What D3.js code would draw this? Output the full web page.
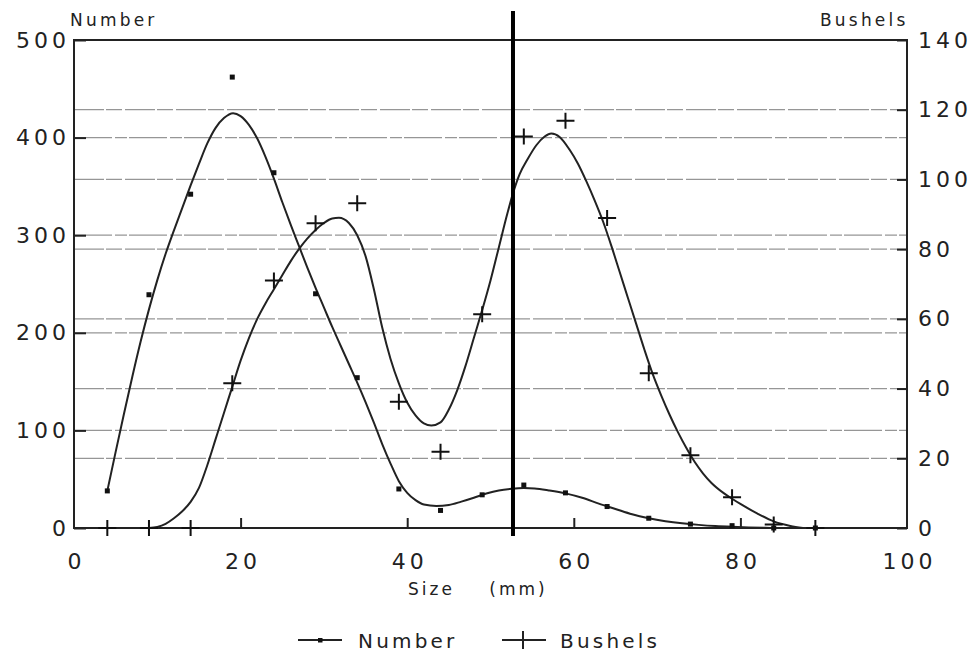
<!DOCTYPE html>
<html>
<head>
<meta charset="utf-8">
<script src="https://cdn.jsdelivr.net/npm/d3@7"></script>
<style>
  html, body { margin: 0; padding: 0; background: #fff; }
  text { font-family: "DejaVu Sans", sans-serif; fill: #222; }
</style>
</head>
<body>
<svg id="chart" width="974" height="662"></svg>
<script>
// ---- data ----
const sizes = [4, 9, 14, 19, 24, 29, 34, 39, 44, 49, 54, 59, 64, 69, 74, 79, 84, 89];
const numberValues = [38, 239, 342, 462, 364, 240, 154, 40, 18, 34, 44, 36, 22, 10, 4, 2.4, 0, 0];
const bushelValues = [0, 0, 0, 41.5, 71, 87.4, 93.2, 36.2, 21.9, 61.3, 112.3, 116.8, 88.9, 44.4, 20.9, 8.8, 1, 0];

// fitted smooth curves
const numberCurveX = [4, 5, 6, 7, 8, 9, 10, 11, 12, 13, 14, 15, 16, 17, 18, 19.1, 20, 21, 22, 23, 24, 25, 26, 27, 28, 29, 30, 31, 32, 33, 34, 35, 36, 37, 38, 39, 40, 41, 42, 43.5, 45, 46.5, 48, 49.5, 51, 52.5, 54, 55.3, 57, 59, 61, 63, 65, 67, 69, 71, 73, 75, 77, 79, 81, 83, 85];
const numberCurveY = [38, 78, 117, 155, 191, 224, 254, 281, 305, 328, 351, 373, 394, 410, 420, 425, 422, 413, 399, 380, 358, 334, 311, 289, 267, 246, 226, 206, 187, 168, 149, 129, 108, 86, 66, 48, 36, 28.5, 24, 22.5, 23.5, 27, 31, 35.3, 38.5, 40.2, 41, 40.5, 38.5, 35.5, 31, 25, 19.5, 14, 10, 7, 4.8, 3.2, 2, 1.2, 0.6, 0.2, 0];
const bushelCurveX = [9, 10, 11, 12, 13, 14, 15, 16, 17, 18, 19, 20, 21, 22, 23, 24, 25, 26, 27, 28, 29, 30, 31, 31.8, 33, 34, 35, 36, 37, 38, 39, 40, 41, 42, 42.9, 44, 45, 46, 47, 48, 49, 50, 51, 52, 52.7, 53.5, 54.5, 55.5, 56.5, 57.3, 58.3, 59.5, 60.5, 61.5, 62.5, 63.5, 64.5, 65.5, 66.5, 67.5, 68.5, 69.5, 70.5, 71.5, 72.5, 73.5, 74.5, 75.5, 76.5, 78, 79, 80, 82, 84, 86, 87.5];
const bushelCurveY = [0, 0.3, 1.2, 2.8, 4.8, 7.5, 11.5, 18, 25.5, 33, 40.5, 48, 54.5, 60, 64.5, 68.5, 72.5, 76.5, 80, 83, 85.5, 87.5, 88.8, 89, 87.5, 84, 78, 68.5, 57.5, 48.5, 41.5, 36, 32.3, 30, 29.4, 30.3, 34, 39.5, 46.5, 54.5, 62.5, 71, 80.5, 90, 96, 101.5, 106, 109.8, 112.3, 113.2, 112.2, 108.5, 104.5, 99.5, 94, 88, 81, 73.5, 66, 58.5, 51, 44, 38, 32.5, 27.5, 23, 19, 15.7, 13, 10, 8.4, 6.9, 4.2, 1.9, 0.6, 0];

const xTicks = [0, 20, 40, 60, 80, 100];
const leftTicks = [0, 100, 200, 300, 400, 500];
const rightTicks = [0, 20, 40, 60, 80, 100, 120, 140];
const markerSize = 52.7;
const labels = { left: "Number", right: "Bushels", x: "Size (mm)" };

// ---- layout ----
const svg = d3.select("#chart");
const x = d3.scaleLinear().domain([0, 100]).range([74, 907]);
const yL = d3.scaleLinear().domain([0, 500]).range([528, 40]);
const yR = d3.scaleLinear().domain([0, 140]).range([528, 40]);

const tickFont = { size: 22, spacing: 4 };

// gridlines
const grid = svg.append("g");
grid.selectAll("line.gl").data(leftTicks.filter(d => d > 0 && d < 500)).join("line")
  .attr("x1", x(0)).attr("x2", x(100)).attr("y1", d => yL(d)).attr("y2", d => yL(d))
  .attr("stroke", "#969696").attr("stroke-width", 1.3).attr("stroke-dasharray", "38,3,12,2");
grid.selectAll("line.gr").data(rightTicks.filter(d => d > 0 && d < 140)).join("line")
  .attr("x1", x(0)).attr("x2", x(100)).attr("y1", d => yR(d)).attr("y2", d => yR(d))
  .attr("stroke", "#969696").attr("stroke-width", 1.3).attr("stroke-dasharray", "30,2,16,3");

// frame
svg.append("rect").attr("x", x(0)).attr("y", yL(500))
  .attr("width", x(100) - x(0)).attr("height", yL(0) - yL(500))
  .attr("fill", "none").attr("stroke", "#222").attr("stroke-width", 2);

// axes
function styleAxis(g) {
  g.select(".domain").remove();
  g.selectAll(".tick line").attr("stroke", "#222").attr("stroke-width", 2);
  g.selectAll(".tick text").attr("font-size", tickFont.size).attr("letter-spacing", tickFont.spacing + "px")
    .attr("fill", "#222").attr("font-family", "DejaVu Sans, sans-serif");
}
const gx = svg.append("g").attr("transform", `translate(0,${yL(0)})`)
  .call(d3.axisBottom(x).tickValues(xTicks).tickSize(-10).tickPadding(25).tickFormat(d3.format("d")));
styleAxis(gx);
gx.selectAll(".tick line").filter(d => d === 0 || d === 100).remove();
gx.selectAll(".tick text").attr("dx", tickFont.spacing / 2);

const gl = svg.append("g").attr("transform", `translate(${x(0)},0)`)
  .call(d3.axisLeft(yL).tickValues(leftTicks).tickSize(-12).tickPadding(8).tickFormat(d3.format("d")));
styleAxis(gl);
gl.selectAll(".tick text").attr("dx", tickFont.spacing);

const gr = svg.append("g").attr("transform", `translate(${x(100)},0)`)
  .call(d3.axisRight(yR).tickValues(rightTicks).tickSize(-10).tickPadding(11).tickFormat(d3.format("d")));
styleAxis(gr);

// titles
svg.append("text").attr("x", 70).attr("y", 26).attr("font-size", 17).attr("letter-spacing", "3.2px").text(labels.left);
svg.append("text").attr("x", 820).attr("y", 26).attr("font-size", 17).attr("letter-spacing", "3.2px").text(labels.right);
svg.append("text").attr("x", 408).attr("y", 595).attr("font-size", 17).attr("letter-spacing", "3px")
  .attr("word-spacing", "26px").text(labels.x);

// curves
const lineN = d3.line().x(d => x(d[0])).y(d => yL(d[1])).curve(d3.curveMonotoneX);
const lineB = d3.line().x(d => x(d[0])).y(d => yR(d[1])).curve(d3.curveMonotoneX);
svg.append("path").datum(d3.zip(numberCurveX, numberCurveY)).attr("d", lineN)
  .attr("fill", "none").attr("stroke", "#222").attr("stroke-width", 2);
svg.append("path").datum(d3.zip(bushelCurveX, bushelCurveY)).attr("d", lineB)
  .attr("fill", "none").attr("stroke", "#222").attr("stroke-width", 2);

// points: Number (dots)
svg.append("g").selectAll("rect").data(d3.zip(sizes, numberValues)).join("rect")
  .attr("x", d => x(d[0]) - 2.5).attr("y", d => yL(d[1]) - 2.5)
  .attr("width", 5).attr("height", 5).attr("fill", "#111");

// points: Bushels (plus)
const plus = (cx, cy) => `M${cx - 9},${cy}H${cx + 9}M${cx},${cy - 8}V${cy + 8}`;
svg.append("g").selectAll("path").data(d3.zip(sizes, bushelValues)).join("path")
  .attr("d", d => plus(x(d[0]), yR(d[1])))
  .attr("stroke", "#111").attr("stroke-width", 2).attr("fill", "none");

// thick vertical marker
svg.append("line").attr("x1", x(markerSize)).attr("x2", x(markerSize))
  .attr("y1", 11).attr("y2", 536).attr("stroke", "#000").attr("stroke-width", 4);

// legend
const lg = svg.append("g");
lg.append("line").attr("x1", 298).attr("x2", 342).attr("y1", 640).attr("y2", 640).attr("stroke", "#222").attr("stroke-width", 2);
lg.append("rect").attr("x", 318).attr("y", 638).attr("width", 4.5).attr("height", 4.5).attr("fill", "#111");
lg.append("text").attr("x", 358).attr("y", 648).attr("font-size", 20).attr("letter-spacing", "3.2px").text("Number");
lg.append("line").attr("x1", 502).attr("x2", 546).attr("y1", 640).attr("y2", 640).attr("stroke", "#222").attr("stroke-width", 2);
lg.append("line").attr("x1", 523).attr("x2", 523).attr("y1", 631).attr("y2", 649).attr("stroke", "#222").attr("stroke-width", 2);
lg.append("text").attr("x", 560).attr("y", 648).attr("font-size", 20).attr("letter-spacing", "3.2px").text("Bushels");
</script>
</body>
</html>
